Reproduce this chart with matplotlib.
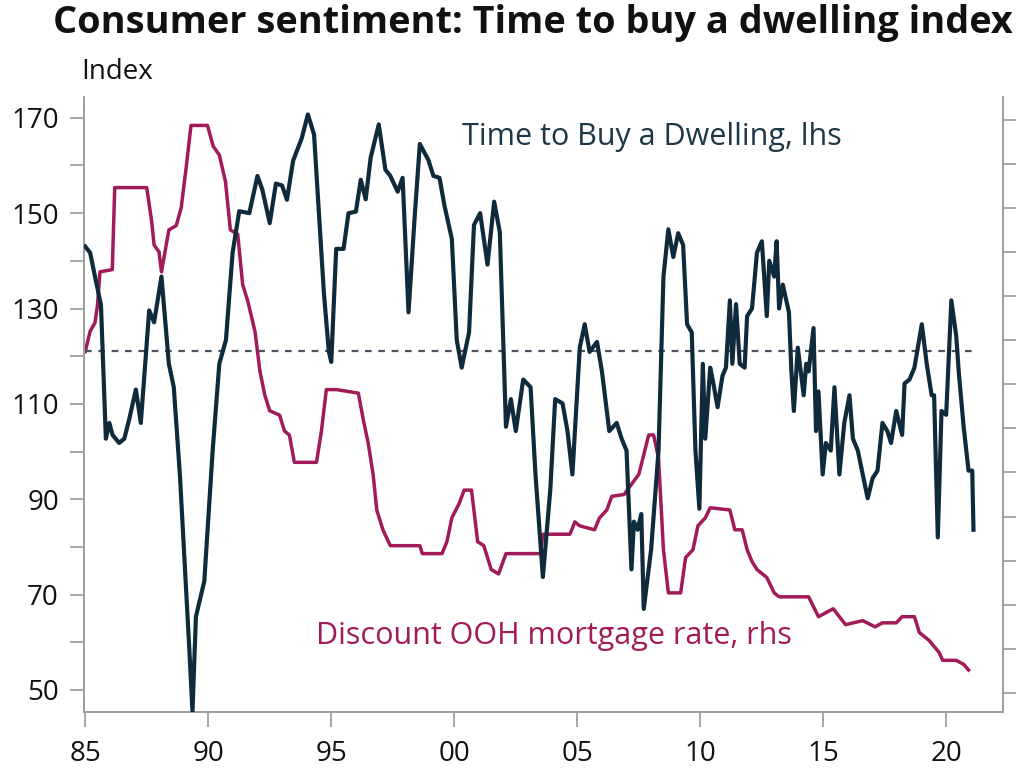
import numpy as np
import matplotlib
matplotlib.use("Agg")
import matplotlib.pyplot as plt
from matplotlib.ticker import MultipleLocator, FuncFormatter

plt.rcParams['font.family'] = ['Open Sans', 'DejaVu Sans']

# Time to buy a dwelling index (lhs)
ttb_years = [1985.0, 1985.2, 1985.43, 1985.64, 1985.84, 1985.98, 1986.11, 1986.38, 1986.59, 1986.79,
             1987.06, 1987.26, 1987.6, 1987.8, 1988.1, 1988.4, 1988.6, 1988.85, 1989.23, 1989.36,
             1989.5, 1989.84, 1990.18, 1990.45, 1990.72, 1990.99, 1991.26, 1991.67, 1992.0, 1992.2,
             1992.5, 1992.75, 1993.0, 1993.2, 1993.45, 1993.8, 1994.05, 1994.3, 1994.5, 1994.7,
             1994.9, 1995.0, 1995.2, 1995.5, 1995.7, 1996.0, 1996.2, 1996.4, 1996.6, 1996.93,
             1997.2, 1997.4, 1997.7, 1997.9, 1998.14, 1998.4, 1998.6, 1998.95, 1999.15, 1999.4,
             1999.6, 1999.9, 2000.1, 2000.3, 2000.6, 2000.8, 2001.05, 2001.35, 2001.62, 2001.85,
             2002.1, 2002.3, 2002.5, 2002.8, 2003.1, 2003.3, 2003.6, 2003.9, 2004.1, 2004.4,
             2004.6, 2004.8, 2005.1, 2005.3, 2005.5, 2005.8, 2006.0, 2006.3, 2006.6, 2006.8,
             2007.0, 2007.2, 2007.3, 2007.45, 2007.6, 2007.7, 2008.0, 2008.3, 2008.5, 2008.7,
             2008.9, 2009.1, 2009.3, 2009.46, 2009.65, 2009.8, 2009.96, 2010.1, 2010.2, 2010.4,
             2010.5, 2010.7, 2010.9, 2011.04, 2011.2, 2011.3, 2011.45, 2011.6, 2011.8, 2011.9,
             2012.1, 2012.3, 2012.5, 2012.7, 2012.8, 2013.0, 2013.1, 2013.2, 2013.35, 2013.6,
             2013.7, 2013.8, 2013.96, 2014.2, 2014.3, 2014.4, 2014.6, 2014.7, 2014.8, 2014.97,
             2015.1, 2015.3, 2015.45, 2015.65, 2015.85, 2016.06, 2016.2, 2016.4, 2016.6, 2016.8,
             2017.0, 2017.2, 2017.4, 2017.6, 2017.75, 2017.96, 2018.2, 2018.3, 2018.5, 2018.7,
             2019.0, 2019.2, 2019.4, 2019.5, 2019.65, 2019.8, 2019.99, 2020.2, 2020.4, 2020.5,
             2020.7, 2020.9, 2021.05, 2021.1]
ttb_index = [143, 141.7, 135.9, 130.8, 102.7, 106, 103.5, 101.8, 102.7, 106.8,
             113, 106, 129.6, 127.1, 136.7, 118.4, 113.5, 95, 58.7, 45.5,
             65.4, 72.8, 100.2, 118.4, 123.4, 141.7, 150.4, 150, 157.8, 154.9,
             147.9, 156.2, 155.8, 152.8, 161, 165.7, 170.7, 166.5, 150, 133.3,
             121, 118.8, 142.5, 142.5, 150, 150.3, 157, 152.9, 161.6, 168.6,
             159.1, 157.8, 154.5, 157.4, 129.2, 150, 164.5, 161.1, 157.8, 157.4,
             151.6, 144.6, 123.4, 117.6, 125, 147.5, 150, 139.2, 152.4, 146,
             105.2, 111, 104.3, 115.1, 113.5, 95.2, 73.7, 91.9, 111, 110.1,
             104.3, 95.2, 121.8, 126.7, 120.9, 123, 116.8, 104.3, 106, 102.7,
             100.2, 75.3, 85.3, 83.6, 86.9, 67.0, 79.5, 100.2, 136.7, 146.6,
             140.8, 145.8, 143.3, 126.7, 125, 100.2, 88, 118.4, 102.7, 117.6,
             115.1, 109.3, 115.9, 117.6, 131.7, 118.4, 130.9, 118.4, 117.6, 128.4,
             130, 141.7, 144.1, 128.4, 140, 136.7, 144.1, 130, 135, 129.2,
             116.8, 108.5, 121.8, 111.8, 118.4, 116.8, 125.9, 104.3, 112.6, 95.2,
             101.8, 100.2, 113.5, 95.2, 106, 111.8, 102.7, 100.2, 95.2, 90.2,
             94.4, 96, 106, 104.3, 101.8, 108.5, 103.5, 114.3, 115.1, 117.6,
             126.7, 118.4, 111.8, 111.8, 82, 108.5, 107.7, 131.7, 124.2, 116.8,
             105.2, 96, 96, 83.6]
ttb_average = 121

# Discount owner-occupier mortgage rate (rhs)
rate_years = [1985.0, 1985.2, 1985.4, 1985.5, 1985.6, 1986.1, 1986.2, 1987.5, 1987.7, 1987.8,
              1988.0, 1988.1, 1988.4, 1988.7, 1988.9, 1989.1, 1989.3, 1989.97, 1990.2, 1990.45,
              1990.7, 1990.9, 1991.2, 1991.4, 1991.6, 1991.9, 1992.1, 1992.3, 1992.5, 1992.9,
              1993.1, 1993.3, 1993.5, 1994.4, 1994.6, 1994.8, 1995.2, 1996.1, 1996.3, 1996.5,
              1996.7, 1996.85, 1997.1, 1997.4, 1998.6, 1998.7, 1999.5, 1999.7, 1999.9, 2000.2,
              2000.4, 2000.7, 2000.95, 2001.2, 2001.5, 2001.8, 2002.1, 2003.5, 2003.6, 2004.7,
              2004.9, 2005.1, 2005.7, 2005.9, 2006.2, 2006.4, 2006.9, 2007.2, 2007.5, 2007.7,
              2007.9, 2008.1, 2008.3, 2008.5, 2008.7, 2009.2, 2009.4, 2009.7, 2009.9, 2010.2,
              2010.4, 2011.2, 2011.4, 2011.7, 2011.9, 2012.1, 2012.3, 2012.7, 2013.0, 2013.2,
              2014.4, 2014.8, 2015.1, 2015.4, 2015.65, 2015.9, 2016.6, 2017.1, 2017.4, 2017.96,
              2018.2, 2018.7, 2018.9, 2019.3, 2019.7, 2019.85, 2020.4, 2020.7, 2020.9]
rate_pct = [9.74, 10.2, 10.4, 10.8, 11.55, 11.6, 13.46, 13.46, 12.7, 12.16,
            12.0, 11.55, 12.5, 12.6, 13.0, 13.9, 14.87, 14.87, 14.4, 14.2,
            13.6, 12.5, 12.4, 11.26, 10.9, 10.2, 9.3, 8.75, 8.4, 8.3,
            7.94, 7.85, 7.23, 7.23, 7.94, 8.88, 8.88, 8.8, 8.2, 7.67,
            6.96, 6.15, 5.7, 5.34, 5.34, 5.16, 5.16, 5.43, 5.97, 6.3,
            6.6, 6.6, 5.43, 5.34, 4.8, 4.7, 5.16, 5.16, 5.6, 5.6,
            5.88, 5.79, 5.7, 5.97, 6.15, 6.46, 6.5, 6.73, 6.96, 7.4,
            7.85, 7.85, 7.32, 5.25, 4.27, 4.27, 5.07, 5.25, 5.79, 5.97,
            6.2, 6.15, 5.7, 5.7, 5.25, 4.98, 4.8, 4.62, 4.27, 4.18,
            4.18, 3.73, 3.82, 3.91, 3.73, 3.55, 3.64, 3.5, 3.59, 3.59,
            3.73, 3.73, 3.37, 3.19, 2.92, 2.74, 2.74, 2.65, 2.52]

navy = '#0e2a3b'
plum = '#a11a5a'
grey = '#a0a0a0'

fig = plt.figure(figsize=(10.24, 7.68), dpi=100)
ax = fig.add_axes([0.082, 0.073, 0.8975, 0.801])
ax2 = ax.twinx()

ax.plot(ttb_years, ttb_index, color=navy, lw=3.0, zorder=3)
ax.hlines(ttb_average, ttb_years[0], ttb_years[-1], colors='#4a5560', linestyles=(0, (3, 3)), lw=1.6, zorder=2)
ax2.plot(rate_years, rate_pct, color=plum, lw=2.5)

ax.set_zorder(ax2.get_zorder() + 1)
ax.patch.set_visible(False)

ax.set_xlim(1984.95, 2022.3)
ax.set_ylim(45.4, 174.4)
ax2.set_ylim(1.57, 15.52)

ax.yaxis.set_major_locator(MultipleLocator(10))
ax.yaxis.set_major_formatter(FuncFormatter(lambda v, p: f'{int(round(v))}' if int(round(v)) % 20 == 10 else ''))
ax2.yaxis.set_major_locator(MultipleLocator(1))
ax2.yaxis.set_major_formatter(FuncFormatter(lambda v, p: ''))
ax.set_xticks(np.arange(1985, 2021, 5))
ax.xaxis.set_major_formatter(FuncFormatter(lambda v, p: f'{int(round(v)) % 100:02d}'))

for a in (ax, ax2):
    a.spines['top'].set_visible(False)
    for s in ('left', 'right', 'bottom'):
        a.spines[s].set_color(grey)
        a.spines[s].set_linewidth(1.3)
ax.tick_params(axis='y', length=10, width=1.3, color=grey, labelsize=20, pad=8, labelcolor='#111111')
ax.tick_params(axis='x', length=11, width=1.3, color=grey, labelsize=20, pad=9, labelcolor='#111111')
ax2.tick_params(axis='y', length=9, width=1.3, color=grey)

ax.text(0.411, 0.935, 'Time to Buy a Dwelling, lhs', transform=ax.transAxes, color='#1e3747',
        fontsize=22, ha='left', va='center')
ax.text(0.252, 0.124, 'Discount OOH mortgage rate, rhs', transform=ax.transAxes, color=plum,
        fontsize=22, ha='left', va='center')

fig.text(0.52, 0.970, 'Consumer sentiment: Time to buy a dwelling index', ha='center', va='center',
         fontsize=27.3, fontweight='bold', color='#111111')
fig.text(0.079, 0.906, 'Index', ha='left', va='center', fontsize=20, color='#111111')

fig.savefig('out.png', dpi=100)
